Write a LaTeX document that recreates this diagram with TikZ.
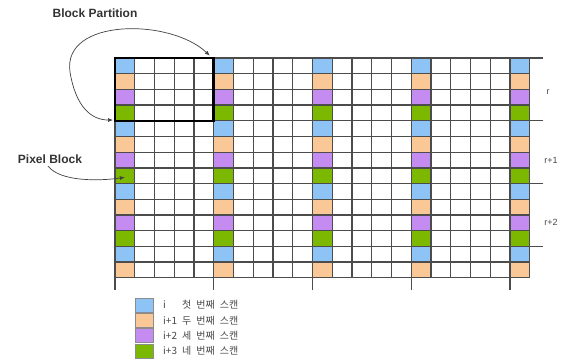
\documentclass[tikz,border=0pt]{standalone}
\usepackage{fontspec}
\setmainfont{Liberation Sans}
\newfontfamily\krfont{Noto Sans CJK KR}
\usetikzlibrary{arrows.meta}

\definecolor{scanblue}{RGB}{142,196,245}
\definecolor{scanorange}{RGB}{250,200,150}
\definecolor{scanpurple}{RGB}{196,140,240}
\definecolor{scangreen}{RGB}{124,184,0}
\definecolor{inkgray}{RGB}{70,70,70}

\newcommand{\scanword}[1]{#1\hspace{5pt}번째\hspace{5pt}스캔}

\tikzset{
  gridline/.style={draw=black!70, line width=1.3pt},
  partbox/.style={draw=black, line width=2.6pt},
  callout/.style={font=\bfseries\fontsize{12}{14}\selectfont, text=black!80},
  rowlabel/.style={font=\fontsize{9}{11}\selectfont, text=inkgray},
  keybox/.style={draw=black!45, line width=0.6pt, minimum width=18pt, minimum height=14pt, inner sep=0pt},
  keytext/.style={font=\krfont\fontsize{10}{12}\selectfont, text=inkgray, inner sep=0pt, anchor=west},
  pointer/.style={draw=black!75, line width=0.7pt}
}

\begin{document}
\begin{tikzpicture}[x=1pt, y=-1pt]
  \useasboundingbox (0,0) rectangle (563,360);

  % pixel grid, one scan column every fifth column
  \begin{scope}[shift={(115,58)}, x=19.75pt, y=-15.7pt]
    \foreach \j in {0,5,10,15,20}
      \foreach \i/\col in {0/scanblue,1/scanorange,2/scanpurple,3/scangreen,
                           4/scanblue,5/scanorange,6/scanpurple,7/scangreen,
                           8/scanblue,9/scanorange,10/scanpurple,11/scangreen,
                           12/scanblue,13/scanorange}
        \fill[\col] (\j,\i) rectangle ++(1,1);
    \foreach \j in {0,...,21}
      \draw[gridline] (\j,0) -- (\j,14);
    \foreach \i in {0,...,14}
      \draw[gridline] (0,\i) -- (21,\i);
    \foreach \i in {0,4,8,12}
      \draw[gridline] (21,\i) -- (21.65,\i);
    \foreach \j in {0,5,10,15,20}
      \draw[gridline] (\j,14) -- (\j,14.8);
    \draw[partbox] (0,0) rectangle (5,4);
    \coordinate (bpNE) at (4.8,-0.15);
    \coordinate (bpSW) at (-0.1,3.95);
    \coordinate (pix) at (0.5,7.6);
  \end{scope}

  % callouts
  \node[callout] (bplabel) at (95,13) {Block Partition};
  \node[callout] (pxlabel) at (50,159) {Pixel Block};
  \coordinate (pxstart) at (48,166);
  \draw[pointer, {Latex[length=5pt,width=4pt]}-{Latex[length=5pt,width=4pt]}]
    (bpNE) .. controls (170,18) and (62,18) .. (70,72)
           .. controls (76,108) and (92,120) .. (bpSW);
  \draw[pointer, -{Latex[length=5pt,width=4pt]}]
    (pxstart) .. controls (60,182) and (100,181) .. (pix);

  % block rows
  \node[rowlabel] (row0) at (548,92) {r};
  \node[rowlabel] (row1) at (551,160) {r+1};
  \node[rowlabel] (row2) at (551,222) {r+2};

  % legend
  \foreach \k/\col/\pre/\ord in {0/scanblue/i/첫,1/scanorange/i+1/두,
                                 2/scanpurple/i+2/세,3/scangreen/i+3/네} {
    \node[keybox, fill=\col] (key\k) at (144,305+15.3*\k) {};
    \node[keytext] (keyp\k) at (163,305+15.3*\k) {\pre};
    \node[keytext] (keyt\k) at (182,305+15.3*\k) {\scanword{\ord}};
  }
\end{tikzpicture}
\end{document}
